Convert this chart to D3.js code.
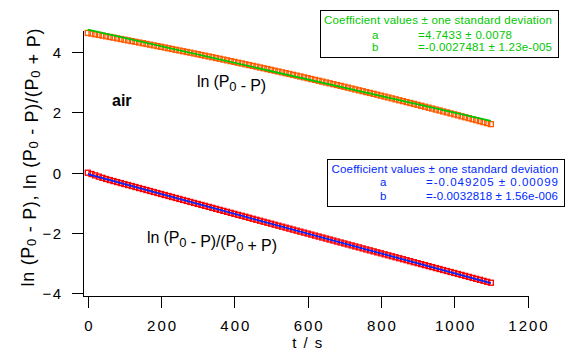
<!DOCTYPE html>
<html>
<head>
<meta charset="utf-8">
<script src="https://cdn.jsdelivr.net/npm/d3@7"></script>
<style>
  body { margin: 0; background: #fff; }
  svg { display: block; }
  text { font-family: "Liberation Sans", Arial, sans-serif; }
</style>
</head>
<body>
<div id="chart"></div>
<script>
// sample times (s)
var timeS = [0,10,20,30,40,50,60,70,80,90,100,110,120,130,140,150,160,170,180,190,
  200,210,220,230,240,250,260,270,280,290,300,310,320,330,340,350,360,370,380,390,
  400,410,420,430,440,450,460,470,480,490,500,510,520,530,540,550,560,570,580,590,
  600,610,620,630,640,650,660,670,680,690,700,710,720,730,740,750,760,770,780,790,
  800,810,820,830,840,850,860,870,880,890,900,910,920,930,940,950,960,970,980,990,
  1000,1010,1020,1030,1040,1050,1060,1070,1080,1090,1100];

// ln(P0 - P)
var lnDiff = [4.633,4.611,4.589,4.567,4.544,4.522,4.499,4.477,4.453,4.431,
  4.408,4.385,4.361,4.338,4.315,4.292,4.268,4.244,4.220,4.197,
  4.172,4.149,4.124,4.100,4.075,4.051,4.026,4.002,3.978,3.953,
  3.928,3.903,3.878,3.852,3.827,3.801,3.776,3.750,3.725,3.698,
  3.673,3.646,3.621,3.594,3.568,3.541,3.515,3.488,3.462,3.434,
  3.408,3.380,3.354,3.327,3.299,3.272,3.244,3.217,3.189,3.161,
  3.133,3.105,3.077,3.049,3.020,2.992,2.963,2.935,2.906,2.877,
  2.848,2.819,2.790,2.761,2.731,2.702,2.672,2.643,2.614,2.584,
  2.554,2.524,2.494,2.463,2.433,2.402,2.372,2.341,2.311,2.280,
  2.249,2.218,2.187,2.155,2.125,2.093,2.062,2.030,1.998,1.966,
  1.935,1.902,1.870,1.838,1.806,1.773,1.741,1.708,1.676,1.643,
  1.610];

// ln((P0 - P)/(P0 + P))
var lnRatio = [0.000,-0.045,-0.088,-0.130,-0.170,-0.208,-0.244,-0.277,-0.310,-0.343,
  -0.376,-0.409,-0.442,-0.475,-0.508,-0.541,-0.574,-0.607,-0.640,-0.673,
  -0.706,-0.739,-0.772,-0.805,-0.838,-0.871,-0.904,-0.936,-0.969,-1.002,
  -1.035,-1.068,-1.100,-1.133,-1.166,-1.199,-1.232,-1.264,-1.297,-1.330,
  -1.363,-1.396,-1.428,-1.461,-1.494,-1.527,-1.560,-1.592,-1.625,-1.658,
  -1.690,-1.723,-1.756,-1.789,-1.821,-1.854,-1.887,-1.920,-1.953,-1.985,
  -2.018,-2.051,-2.084,-2.116,-2.149,-2.182,-2.214,-2.247,-2.280,-2.313,
  -2.345,-2.378,-2.411,-2.444,-2.476,-2.509,-2.542,-2.574,-2.607,-2.640,
  -2.672,-2.705,-2.737,-2.770,-2.803,-2.835,-2.868,-2.900,-2.933,-2.966,
  -2.998,-3.031,-3.063,-3.096,-3.128,-3.161,-3.193,-3.226,-3.258,-3.291,
  -3.323,-3.356,-3.388,-3.421,-3.453,-3.486,-3.518,-3.550,-3.583,-3.615,
  -3.647];

// fitted lines, end points
var fitTimes = [0, 1100];
var fitDiff = [4.743, 1.720];
var fitRatio = [-0.049, -3.659];

var xTicks = [0, 200, 400, 600, 800, 1000, 1200];
var yTicks = [-4, -2, 0, 2, 4];

var legendDiff = ["Coefficient values \u00b1 one standard deviation", "a", "=4.7433 \u00b1 0.0078", "b", "=-0.0027481 \u00b1 1.23e-005"];
var legendRatio = ["Coefficient values \u00b1 one standard deviation", "a", "=-0.049205 \u00b1 0.00099", "b", "=-0.0032818 \u00b1 1.56e-006"];

(function() {
  var width = 573, height = 362;
  var orange = "#ff5a00", green = "#00c800", red = "#ff0000", blue = "#0028ff";

  var svg = d3.select("#chart").append("svg")
    .attr("width", width).attr("height", height);

  var x = d3.scaleLinear().domain([-14.5, 1200]).range([82.5, 527.5]);
  var y = d3.scaleLinear().domain([-4.07, 4.73]).range([295.5, 30]);

  var ptsDiff = timeS.map(function(t, i) { return { x: t, y: lnDiff[i] }; });
  var ptsRatio = timeS.map(function(t, i) { return { x: t, y: lnRatio[i] }; });

  function drawMarkers(data, color) {
    svg.append("g").selectAll("rect").data(data).enter().append("rect")
      .attr("x", function(d) { return x(d.x) - 2.5; })
      .attr("y", function(d) { return y(d.y) - 2.5; })
      .attr("width", 5).attr("height", 5)
      .style("fill", "none").style("stroke", color).style("stroke-width", 1.3);
  }

  function drawFit(ys, color) {
    var line = d3.line().x(function(d) { return x(d[0]); }).y(function(d) { return y(d[1]); });
    svg.append("path")
      .attr("d", line(fitTimes.map(function(t, i) { return [t, ys[i]]; })))
      .style("fill", "none").style("stroke", color).style("stroke-width", 1.8);
  }

  drawMarkers(ptsDiff, orange);
  drawMarkers(ptsRatio, red);
  drawFit(fitDiff, green);
  drawFit(fitRatio, blue);

  // axes
  var xAxis = d3.axisBottom(x).tickValues(xTicks).tickFormat(d3.format("d")).tickSize(12).tickSizeOuter(0);
  var yAxis = d3.axisLeft(y).tickValues(yTicks).tickFormat(d3.format("d")).tickSize(11).tickSizeOuter(0);

  var gx = svg.append("g").attr("transform", "translate(0,295.5)").call(xAxis);
  var gy = svg.append("g").attr("transform", "translate(82.5,0)").call(yAxis);

  [gx, gy].forEach(function(g) {
    g.selectAll("path, line").style("stroke", "#000").style("stroke-width", 1).attr("shape-rendering", "crispEdges");
    g.selectAll("text").style("fill", "#000").style("font-size", "15px")
      .style("font-family", "'Liberation Sans', Arial, sans-serif");
  });
  gx.selectAll("text").attr("y", 35).attr("dy", 0).style("letter-spacing", "2px").attr("dx", "1px");
  gy.selectAll("text").attr("x", -20).attr("dy", "0.36em").style("letter-spacing", "1.5px");

  svg.append("text").attr("x", 308).attr("y", 347.5).attr("text-anchor", "middle")
    .style("font-size", "15px").style("letter-spacing", "1.5px").text("t / s");

  // text with subscript zeros
  function subText(sel, parts, fs, subFs, shift) {
    parts.forEach(function(p) {
      if (p === "0") {
        sel.append("tspan").attr("dy", shift).style("font-size", subFs + "px").text("0");
        sel.append("tspan").attr("dy", -shift).style("font-size", fs + "px").text("");
      } else {
        sel.append("tspan").style("font-size", fs + "px").text(p);
      }
    });
  }

  var yTitle = svg.append("text")
    .attr("transform", "translate(33.5,157.5) rotate(-90)")
    .attr("text-anchor", "middle")
    .attr("textLength", 258).attr("lengthAdjust", "spacing");
  subText(yTitle, ["ln (P", "0", " - P), ln (P", "0", " - P)/(P", "0", " + P)"], 18, 13, 2);

  var lab1 = svg.append("text").attr("x", 197).attr("y", 87)
    .attr("textLength", 69).attr("lengthAdjust", "spacing");
  subText(lab1, ["ln (P", "0", " - P)"], 16, 13, 4);

  var lab2 = svg.append("text").attr("x", 147).attr("y", 243)
    .attr("textLength", 130).attr("lengthAdjust", "spacing");
  subText(lab2, ["ln (P", "0", " - P)/(P", "0", " + P)"], 16, 13, 4);

  svg.append("text").attr("x", 112).attr("y", 106)
    .style("font-size", "16px").style("font-weight", "bold").text("air");

  // fit legends
  function legend(texts, color, box, pos) {
    var g = svg.append("g");
    g.append("rect").attr("x", box[0]).attr("y", box[1]).attr("width", box[2]).attr("height", box[3])
      .style("fill", "#fff").style("stroke", "#000").style("stroke-width", 1).attr("shape-rendering", "crispEdges");
    var t = g.append("g").style("fill", color).style("font-size", "11.5px");
    t.append("text").attr("x", pos.x0).attr("y", pos.b[0]).attr("textLength", pos.w0).attr("lengthAdjust", "spacing").text(texts[0]);
    t.append("text").attr("x", pos.x1).attr("y", pos.b[1]).text(texts[1]);
    t.append("text").attr("x", pos.x2).attr("y", pos.b[1]).attr("textLength", pos.w1).attr("lengthAdjust", "spacing").text(texts[2]);
    t.append("text").attr("x", pos.x1).attr("y", pos.b[2]).text(texts[3]);
    t.append("text").attr("x", pos.x2).attr("y", pos.b[2]).attr("textLength", pos.w2).attr("lengthAdjust", "spacing").text(texts[4]);
  }

  legend(legendDiff, green, [320.5, 10.5, 238, 47],
    { x0: 324, w0: 228, x1: 372, x2: 418, w1: 94, w2: 134, b: [24, 38.5, 50.5] });
  legend(legendRatio, blue, [327.5, 159.5, 237, 47],
    { x0: 331.5, w0: 227, x1: 380, x2: 426, w1: 132, w2: 132, b: [172.5, 186, 200] });
})();
</script>
</body>
</html>
